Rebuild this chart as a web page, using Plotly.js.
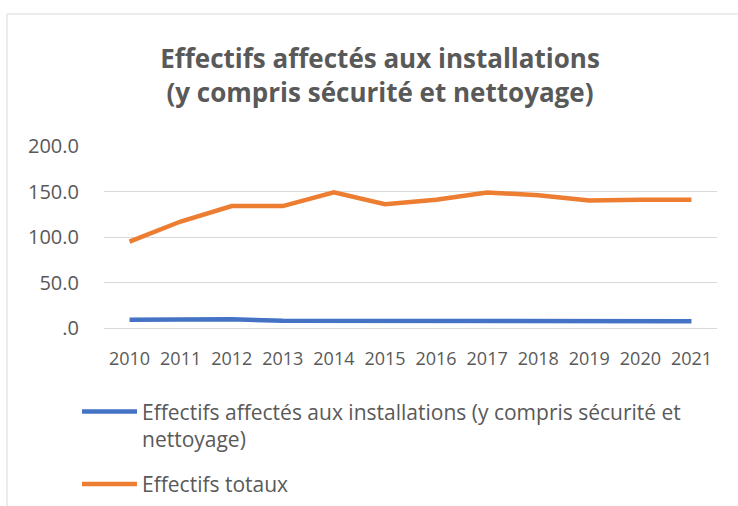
<!DOCTYPE html>
<html>
<head>
<meta charset="utf-8">
<script src="https://cdn.plot.ly/plotly-3.0.1.min.js"></script>
<style>html,body{margin:0;padding:0;background:#fff;}#chart{width:738px;height:506px;}</style>
</head>
<body>
<div id="chart"></div>
<script>
const years = ["2010","2011","2012","2013","2014","2015","2016","2017","2018","2019","2020","2021"];
const effectifsInstallations = [9, 9, 9.5, 8, 8, 8, 7.5, 7.5, 7.5, 7.5, 7.5, 7.5];
const effectifsTotaux = [95, 117, 134, 134, 149, 136, 141, 149, 146, 140, 141, 141];
const yTickVals = [0, 50, 100, 150, 200];
const yTickText = [".0", "50.0", "100.0", "150.0", "200.0"];
const seriesNames = ["Effectifs affectés aux installations (y compris sécurité et<br>nettoyage)", "Effectifs totaux"];
const titleText = "Effectifs affectés aux installations<br>(y compris sécurité et nettoyage)";

const FONT = "'Open Sans', 'Noto Sans', sans-serif";
const gray = "#595959";

const traces = [
  {x: years, y: effectifsInstallations, type: "scatter", mode: "lines", name: seriesNames[0], legendgroup: "a",
   line: {color: "#4472C4", width: 4.5}},
  {x: years, y: effectifsTotaux, type: "scatter", mode: "lines", name: seriesNames[1], legendgroup: "b",
   line: {color: "#ED7D31", width: 4.5}}
];

const layout = {
  width: 738, height: 506,
  margin: {l: 104, r: 21, t: 146, b: 178, autoexpand: false},
  paper_bgcolor: "#fff", plot_bgcolor: "#fff",
  font: {family: FONT, color: gray, size: 16},
  title: {text: titleText, x: 380/738, xanchor: "center", xref: "container", yref: "container", y: 1 - 68/506, yanchor: "middle",
          font: {family: FONT, size: 26, color: gray, weight: "bold"}},
  xaxis: {type: "category", range: [-0.5, 11.5], showgrid: false, zeroline: false, showline: false, automargin: false,
          ticks: "outside", ticklen: 14, tickcolor: "rgba(0,0,0,0)", tickfont: {size: 18, color: gray}},
  yaxis: {range: [0, 200], tickvals: yTickVals, ticktext: yTickText, showgrid: true, gridcolor: "#d9d9d9", gridwidth: 1,
          zeroline: true, zerolinecolor: "#d9d9d9", zerolinewidth: 1, showline: false, automargin: false,
          ticks: "outside", ticklen: 20, tickcolor: "rgba(0,0,0,0)", tickfont: {size: 20, color: gray}},
  showlegend: true,
  legend: {x: (77-104)/613, xanchor: "left", y: -0.348, yanchor: "top", orientation: "v", itemwidth: 55, valign: "top",
           traceorder: "grouped", tracegroupgap: 15,
           font: {family: FONT, size: 21, color: gray}, bgcolor: "rgba(0,0,0,0)"},
  shapes: [
    {type: "rect", xref: "paper", yref: "paper", x0: (7-104)/613, x1: 1.2, y0: -1.2, y1: (328-14)/182,
     line: {color: "#d9d9d9", width: 1}, fillcolor: "rgba(0,0,0,0)", layer: "below"}
  ]
};

Plotly.newPlot("chart", traces, layout, {displayModeBar: false, staticPlot: true});
</script>
</body>
</html>
